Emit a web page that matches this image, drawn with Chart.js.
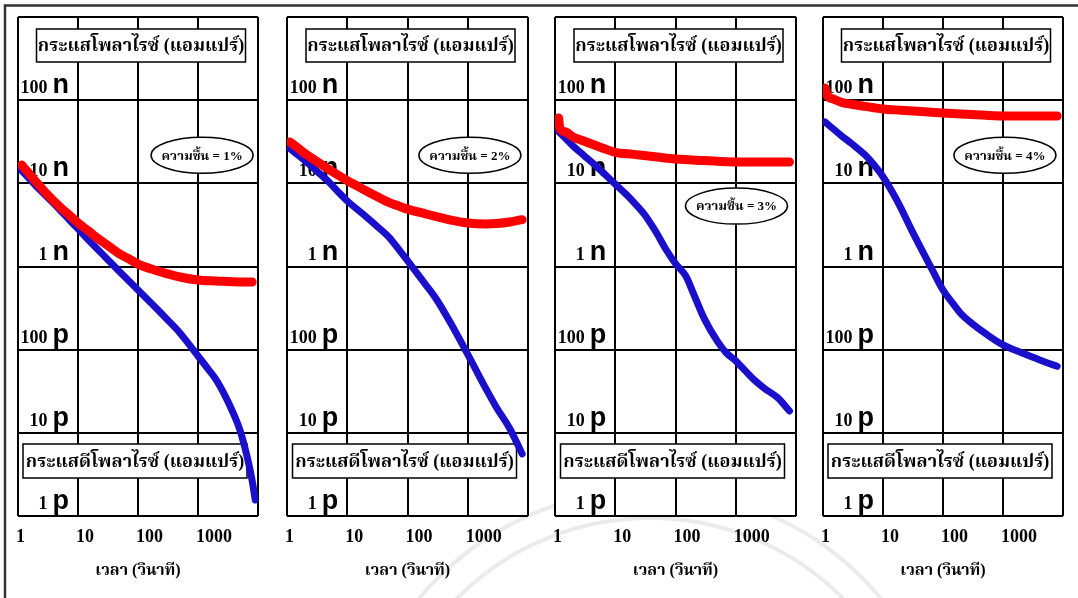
<!DOCTYPE html>
<html><head><meta charset="utf-8">
<script src="https://cdn.jsdelivr.net/npm/chart.js@4.4.1/dist/chart.umd.min.js"></script>
<style>
html,body{margin:0;padding:0;background:#fff}
#wrap{position:absolute;left:0;top:0;width:1078px;height:598px;overflow:hidden;background:#fff}
#wm{position:absolute;left:0;top:0}
canvas{position:absolute;top:0}
#frame{position:absolute;left:0;top:0;z-index:10}
</style></head><body>
<div id="wrap">
<svg id="wm" width="1078" height="598">
<g fill="none" stroke="#ebebeb" stroke-width="4">
<circle cx="650" cy="790" r="300"/><circle cx="650" cy="790" r="272"/></g>
</svg>
<canvas id="c0"></canvas><canvas id="c1"></canvas><canvas id="c2"></canvas><canvas id="c3"></canvas>
<svg id="frame" width="1078" height="598"><g stroke="#333" stroke-width="2.5" fill="none">
<path d="M5 598 L5 5.5 L1078 5.5"/></g></svg>
</div>
<script>
// ---- data ----
const xTicks = [1, 10, 100, 1000, 10000];
const yTicks = [1e-12, 1e-11, 1e-10, 1e-9, 1e-8, 1e-7, 1e-6];
const yTickLabels = ['1 p', '10 p', '100 p', '1 n', '10 n', '100 n', ''];
const humidity = ['1%', '2%', '3%', '4%'];
const topLabel = 'กระแสโพลาไรซ์ (แอมแปร์)';
const bottomLabel = 'กระแสดีโพลาไรซ์ (แอมแปร์)';
const xTitle = 'เวลา (วินาที)';

const t1Red = [1.15,1.5,2,3,5,7,10,15,20,30,50,70,100,200,300,500,1000,2000,5000,8000];
const i1Red = [16.6e-9,13.3e-9,10.4e-9,7.5e-9,5.2e-9,4.2e-9,3.34e-9,2.67e-9,2.26e-9,1.83e-9,1.41e-9,1.24e-9,1.07e-9,0.895e-9,0.82e-9,0.748e-9,0.688e-9,0.669e-9,0.651e-9,0.651e-9];
const t1Blue = [1.05,1.5,2,3,5,7,10,15,20,30,50,70,100,200,300,500,1000,1500,2000,3000,4000,5000,6000,7000,8000,9000];
const i1Blue = [15.3e-9,11.6e-9,9.29e-9,6.93e-9,4.78e-9,3.70e-9,2.83e-9,2.08e-9,1.68e-9,1.25e-9,0.859e-9,0.675e-9,0.522e-9,0.317e-9,0.2345e-9,0.159e-9,83.9e-12,57.5e-12,43.5e-12,25.6e-12,16.3e-12,10.8e-12,6.8e-12,4.27e-12,2.64e-12,1.56e-12];

const t2Red = [1.12,1.5,2,3,5,7,10,15,20,30,50,70,100,200,300,500,1000,2000,3000,5000,8000];
const i2Red = [31.4e-9,26.8e-9,22.7e-9,18.7e-9,14.7e-9,12.6e-9,10.8e-9,9.19e-9,8.20e-9,7.04e-9,5.85e-9,5.36e-9,4.89e-9,4.29e-9,3.98e-9,3.64e-9,3.34e-9,3.25e-9,3.29e-9,3.43e-9,3.66e-9];
const t2Blue = [1.03,1.5,2,3,5,7,10,15,20,30,50,70,100,200,300,500,1000,2000,3000,5000,8000];
const i2Blue = [27.4e-9,22.0e-9,18.6e-9,14.4e-9,10.3e-9,7.95e-9,6.13e-9,4.80e-9,4.03e-9,3.12e-9,2.23e-9,1.64e-9,1.175e-9,0.606e-9,0.407e-9,0.219e-9,87.8e-12,34.0e-12,20.2e-12,11.2e-12,5.57e-12];

const t3Red = [1.15,1.2,1.5,2,3,5,7,10,20,50,100,300,1000,3000,7800];
const i3Red = [61e-9,46.3e-9,41.5e-9,36.1e-9,32.3e-9,28.1e-9,25.7e-9,23.6e-9,22.3e-9,20.7e-9,19.6e-9,18.8e-9,18.05e-9,18.05e-9,18.05e-9];
const t3Blue = [1.08,1.5,2,3,5,7,10,15,20,30,40,50,70,100,150,200,300,500,700,1000,1500,2000,3000,5000,7800];
const i3Blue = [43.8e-9,34.5e-9,28.0e-9,21.7e-9,15.7e-9,12.5e-9,9.79e-9,7.42e-9,5.98e-9,4.29e-9,3.17e-9,2.44e-9,1.59e-9,1.084e-9,0.758e-9,0.467e-9,0.236e-9,0.125e-9,91.2e-12,73.3e-12,54.0e-12,43.6e-12,34.2e-12,26.3e-12,18.3e-12];

const t4Red = [1.08,1.2,1.5,2,3,5,10,20,50,100,300,1000,3000,8000];
const i4Red = [140e-9,112e-9,103e-9,94.5e-9,89.2e-9,84.2e-9,78.3e-9,75.7e-9,72.5e-9,70.1e-9,67.4e-9,64.5e-9,64.5e-9,64.5e-9];
const t4Blue = [1.08,1.5,2,3,5,7,10,15,20,30,50,70,100,150,200,300,500,1000,2000,3000,5000,8000];
const i4Blue = [54.6e-9,44.8e-9,37.7e-9,30.0e-9,22.0e-9,16.8e-9,12.0e-9,7.38e-9,5.01e-9,2.74e-9,1.34e-9,0.843e-9,0.522e-9,0.351e-9,0.269e-9,0.208e-9,0.158e-9,0.114e-9,92.5e-12,82.1e-12,71.1e-12,63.1e-12];

const series = [
  [t1Red, i1Red, t1Blue, i1Blue],
  [t2Red, i2Red, t2Blue, i2Blue],
  [t3Red, i3Red, t3Blue, i3Blue],
  [t4Red, i4Red, t4Blue, i4Blue]
];

// ---- layout ----
const plotLeft = [18, 287, 555, 823];
const plotRight = [258, 528, 796, 1063];
const ellipsePos = [[0.767,0.277],[0.759,0.277],[0.753,0.379],[0.758,0.277]];
const PAD = 12;
const SERIF = '"Liberation Serif", "Noto Serif Thai", "Tlwg Typo", serif';
const SANS = '"Liberation Sans", Arial, sans-serif';

function pts(t, v) { return t.map((x, k) => ({x: x, y: v[k]})); }

const deco = {
  id: 'deco',
  beforeDraw(chart) {
    const {ctx, chartArea: a} = chart;
    ctx.save();
    ctx.fillStyle = '#fff';
    ctx.fillRect(a.left, a.top, a.right - a.left, a.bottom - a.top);
    ctx.restore();
  },
  beforeDatasetsDraw(chart, args, opts) {
    const {ctx, chartArea: a, scales: {x, y}} = chart;
    const cx = (a.left + a.right) / 2;
    ctx.save();
    ctx.fillStyle = '#000';
    // y labels
    const xr = x.getPixelForValue(10) - 9;
    yTicks.forEach((v, k) => {
      const lab = yTickLabels[k];
      if (!lab) return;
      const parts = lab.split(' ');
      const py = y.getPixelForValue(v) - 7;
      ctx.textAlign = 'right';
      ctx.textBaseline = 'alphabetic';
      ctx.font = 'bold 27px ' + SANS;
      const uw = ctx.measureText(parts[1]).width;
      ctx.fillText(parts[1], xr, py);
      ctx.font = 'bold 18px ' + SERIF;
      ctx.fillText(parts[0], xr - uw - 5, py);
    });
    // boxes
    function box(ccx, ccy, w, h, text, size) {
      ctx.fillStyle = '#fff';
      ctx.fillRect(ccx - w / 2, ccy - h / 2, w, h);
      ctx.strokeStyle = '#000';
      ctx.lineWidth = 1.5;
      ctx.strokeRect(ccx - w / 2, ccy - h / 2, w, h);
      ctx.fillStyle = '#000';
      ctx.font = 'bold ' + size + 'px ' + SERIF;
      ctx.textAlign = 'center';
      ctx.textBaseline = 'middle';
      ctx.fillText(text, ccx, ccy + 1);
    }
    box(cx + 3, a.top + 28.5, 209, 33, topLabel, 18);
    box(cx - 3, a.top + 444, 224, 34, bottomLabel, 18);
    // ellipse
    const ep = ellipsePos[opts.idx];
    const ex = a.left + ep[0] * (a.right - a.left);
    const ey = a.top + ep[1] * (a.bottom - a.top);
    ctx.beginPath();
    ctx.ellipse(ex, ey, 51, 18, 0, 0, Math.PI * 2);
    ctx.fillStyle = '#fff';
    ctx.fill();
    ctx.lineWidth = 1.5;
    ctx.strokeStyle = '#000';
    ctx.stroke();
    ctx.fillStyle = '#000';
    ctx.font = 'bold 13px ' + SERIF;
    ctx.textAlign = 'center';
    ctx.textBaseline = 'middle';
    ctx.fillText('ความชื้น = ' + humidity[opts.idx], ex, ey + 1);
    ctx.restore();
  }
};

for (let i = 0; i < 4; i++) {
  const cv = document.getElementById('c' + i);
  const w = plotRight[i] - plotLeft[i] + 2 * PAD;
  cv.width = w; cv.height = 598;
  cv.style.left = (plotLeft[i] - PAD) + 'px';
  cv.style.width = w + 'px'; cv.style.height = '598px';
  const s = series[i];
  new Chart(cv, {
    type: 'line',
    data: {
      datasets: [
        {data: pts(s[0], s[1]), borderColor: '#ff0000', borderWidth: 9, pointRadius: 0,
         cubicInterpolationMode: 'monotone', borderCapStyle: 'round', borderJoinStyle: 'round', fill: false},
        {data: pts(s[2], s[3]), borderColor: '#1a10cc', borderWidth: 7, pointRadius: 0,
         cubicInterpolationMode: 'monotone', borderCapStyle: 'round', borderJoinStyle: 'round', fill: false}
      ]
    },
    options: {
      responsive: false, animation: false, events: [],
      layout: {padding: {left: PAD, right: PAD, top: 17, bottom: 0}},
      plugins: {legend: {display: false}, tooltip: {enabled: false}, deco: {idx: i}},
      scales: {
        x: {
          type: 'logarithmic', min: 1, max: 10000,
          afterBuildTicks: sc => { sc.ticks = xTicks.map(v => ({value: v})); },
          afterFit: sc => { sc.height = 82; },
          grid: {color: '#000', lineWidth: 2, drawTicks: false},
          border: {display: false},
          ticks: {align: 'start', labelOffset: -2, padding: 11, color: '#000', autoSkip: false, maxRotation: 0,
                  font: {family: SERIF, weight: 'bold', size: 18},
                  callback: v => (v < 10000 ? String(v) : '')},
          title: {display: true, text: xTitle, color: '#000',
                  font: {family: SERIF, weight: 'bold', size: 16}, padding: {top: 0, bottom: 18}}
        },
        y: {
          type: 'logarithmic', min: 1e-12, max: 1e-6,
          afterBuildTicks: sc => { sc.ticks = yTicks.map(v => ({value: v})); },
          afterFit: sc => { sc.width = 0; },
          grid: {color: '#000', lineWidth: 2, drawTicks: false},
          border: {display: false},
          ticks: {display: false}
        }
      }
    },
    plugins: [deco]
  });
}
</script>
</body></html>
